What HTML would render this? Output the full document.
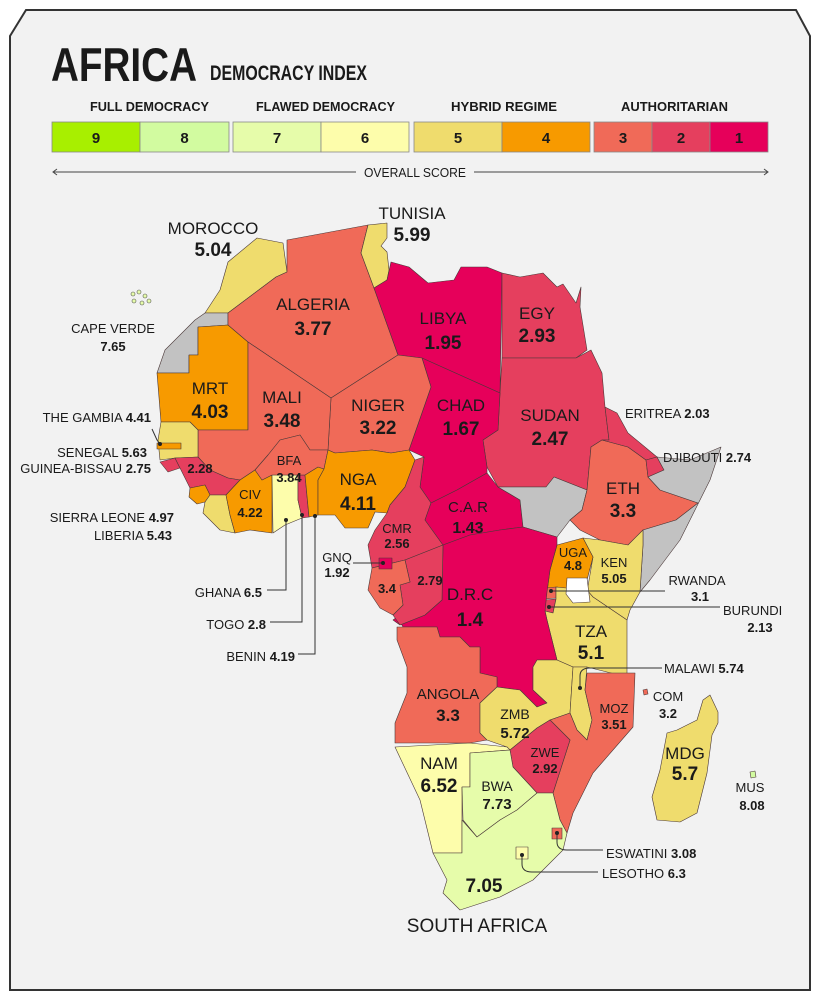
<!DOCTYPE html>
<html><head><meta charset="utf-8">
<style>
body{margin:0;background:#fff;width:820px;height:1000px;overflow:hidden;font-family:"Liberation Sans",sans-serif}
svg{display:block}
.n{font-family:"Liberation Sans Narrow","Liberation Sans",sans-serif;fill:#1a1a1a}
.lab{font-size:17px;text-anchor:middle}
.num{font-size:19px;font-weight:bold;text-anchor:middle}
.sm{font-size:13px;font-weight:bold}
.smc{font-size:13px;font-weight:bold;text-anchor:middle}
.call{fill:none;stroke:#333;stroke-width:1}
</style></head>
<body>
<svg id="map" width="820" height="1000" viewBox="0 0 820 1000">
<path d="M26,10 L796,10 L810,36 L810,990 L10,990 L10,36 Z" fill="#f2f2f2" stroke="#333" stroke-width="2"/>
<text x="51" y="81" class="n" style="font-size:47px;font-weight:bold" textLength="146" lengthAdjust="spacingAndGlyphs">AFRICA</text>
<text x="210" y="80" class="n" style="font-size:21px;font-weight:bold" textLength="157" lengthAdjust="spacingAndGlyphs">DEMOCRACY INDEX</text>
<g class="n" style="font-size:13px;font-weight:bold">
<text x="90" y="111" textLength="119" lengthAdjust="spacingAndGlyphs">FULL DEMOCRACY</text>
<text x="256" y="111" textLength="139" lengthAdjust="spacingAndGlyphs">FLAWED DEMOCRACY</text>
<text x="451" y="111" textLength="106" lengthAdjust="spacingAndGlyphs">HYBRID REGIME</text>
<text x="621" y="111" textLength="107" lengthAdjust="spacingAndGlyphs">AUTHORITARIAN</text>
</g>
<g id="legend"></g>
<line x1="54" y1="172" x2="356" y2="172" stroke="#444" stroke-width="1"/>
<line x1="474" y1="172" x2="767" y2="172" stroke="#444" stroke-width="1"/>
<path d="M57,169 L53,172 L57,175 M764,169 L768,172 L764,175" fill="none" stroke="#444"/>
<text x="364" y="177" class="n" style="font-size:13px" textLength="102" lengthAdjust="spacingAndGlyphs">OVERALL SCORE</text>
<g id="countries"></g>
<path d="M567,578 L587,578 L590,602 L573,603 L566,594 Z" fill="#fff" stroke="#4a3838" stroke-width="0.6"/>
<g fill="#e6fcaa" stroke="#555" stroke-width="0.6">
<circle cx="133" cy="294" r="2"/><circle cx="139" cy="292" r="2"/><circle cx="145" cy="296" r="2"/><circle cx="134" cy="301" r="2"/><circle cx="142" cy="303" r="2"/><circle cx="149" cy="301" r="2"/>
</g>
<g>
<path class="call" d="M152,429 L157,440 L160,444"/>
<path class="call" d="M286,520 L286,590 L267,590"/>
<path class="call" d="M302,515 L302,622 L270,622"/>
<path class="call" d="M315,516 L315,654 L298,654"/>
<path class="call" d="M353,563 L383,563"/>
<path class="call" d="M551,591 L665,591"/>
<path class="call" d="M549,607 L720,607"/>
<path class="call" d="M580,688 L580,676 Q580,668 590,668 L662,668"/>
<path class="call" d="M557,833 L557,842 Q557,850 567,850 L603,850"/>
<path class="call" d="M522,855 L522,864 Q522,872 532,872 L598,872"/>
<g fill="#222"><circle cx="160" cy="444" r="2"/><circle cx="286" cy="520" r="2"/><circle cx="302" cy="515" r="2"/><circle cx="315" cy="516" r="2"/><circle cx="383" cy="563" r="2"/><circle cx="551" cy="591" r="2"/><circle cx="549" cy="607" r="2"/><circle cx="580" cy="688" r="2"/><circle cx="557" cy="833" r="2"/><circle cx="522" cy="855" r="2"/></g>
</g>
<g class="n">
<text x="213" y="234" class="lab">MOROCCO</text><text x="213" y="256" class="num">5.04</text>
<text x="412" y="219" class="lab">TUNISIA</text><text x="412" y="241" class="num">5.99</text>
<text x="313" y="310" class="lab">ALGERIA</text><text x="313" y="335" class="num">3.77</text>
<text x="443" y="324" class="lab">LIBYA</text><text x="443" y="349" class="num">1.95</text>
<text x="537" y="319" class="lab">EGY</text><text x="537" y="342" class="num">2.93</text>
<text x="210" y="394" class="lab">MRT</text><text x="210" y="418" class="num">4.03</text>
<text x="282" y="403" class="lab">MALI</text><text x="282" y="427" class="num">3.48</text>
<text x="378" y="411" class="lab">NIGER</text><text x="378" y="434" class="num">3.22</text>
<text x="461" y="411" class="lab">CHAD</text><text x="461" y="435" class="num">1.67</text>
<text x="550" y="421" class="lab">SUDAN</text><text x="550" y="445" class="num">2.47</text>
<text x="623" y="494" class="lab">ETH</text><text x="623" y="517" class="num">3.3</text>
<text x="358" y="485" class="lab">NGA</text><text x="358" y="510" class="num">4.11</text>
<text x="468" y="512" class="lab" style="font-size:15px">C.A.R</text><text x="468" y="533" class="num" style="font-size:16px">1.43</text>
<text x="470" y="600" class="lab">D.R.C</text><text x="470" y="626" class="num">1.4</text>
<text x="591" y="637" class="lab">TZA</text><text x="591" y="659" class="num">5.1</text>
<text x="448" y="699" class="lab" style="font-size:15px">ANGOLA</text><text x="448" y="721" class="num" style="font-size:17px">3.3</text>
<text x="439" y="769" class="lab">NAM</text><text x="439" y="792" class="num">6.52</text>
<text x="685" y="759" class="lab">MDG</text><text x="685" y="780" class="num">5.7</text>
<text x="484" y="892" class="num">7.05</text>
<text x="477" y="932" class="lab" style="font-size:19px">SOUTH AFRICA</text>
<text x="497" y="791" class="smc" style="font-size:14px;font-weight:normal">BWA</text><text x="497" y="809" class="smc" style="font-size:15px">7.73</text>
<text x="515" y="719" class="smc" style="font-size:14px;font-weight:normal">ZMB</text><text x="515" y="738" class="smc" style="font-size:15px">5.72</text>
<text x="545" y="757" class="smc" style="font-weight:normal">ZWE</text><text x="545" y="773" class="smc">2.92</text>
<text x="614" y="713" class="smc" style="font-weight:normal">MOZ</text><text x="614" y="729" class="smc">3.51</text>
<text x="614" y="567" class="smc" style="font-weight:normal">KEN</text><text x="614" y="583" class="smc">5.05</text>
<text x="573" y="557" class="smc" style="font-weight:normal">UGA</text><text x="573" y="570" class="smc">4.8</text>
<text x="397" y="533" class="smc" style="font-weight:normal">CMR</text><text x="397" y="548" class="smc">2.56</text>
<text x="387" y="593" class="smc">3.4</text><text x="430" y="585" class="smc">2.79</text>
<text x="250" y="499" class="smc" style="font-weight:normal">CIV</text><text x="250" y="517" class="smc">4.22</text>
<text x="289" y="465" class="smc" style="font-weight:normal">BFA</text><text x="289" y="482" class="smc">3.84</text>
<text x="200" y="473" class="smc">2.28</text>
<text x="337" y="562" class="smc" style="font-weight:normal">GNQ</text><text x="337" y="577" class="smc">1.92</text>
<text x="697" y="585" class="smc" style="font-weight:normal">RWANDA</text><text x="700" y="601" class="smc">3.1</text>
<text x="723" y="615" class="sm" style="font-weight:normal">BURUNDI</text><text x="760" y="632" class="smc">2.13</text>
<text x="668" y="701" class="smc" style="font-weight:normal">COM</text><text x="668" y="718" class="smc">3.2</text>
<text x="750" y="792" class="smc" style="font-weight:normal">MUS</text><text x="752" y="810" class="smc">8.08</text>
<text x="113" y="333" class="smc" style="font-weight:normal">CAPE VERDE</text><text x="113" y="351" class="smc">7.65</text>
<text x="625" y="418" class="sm"><tspan font-weight="normal">ERITREA </tspan>2.03</text>
<text x="663" y="462" class="sm"><tspan font-weight="normal">DJIBOUTI </tspan>2.74</text>
<text x="664" y="673" class="sm"><tspan font-weight="normal">MALAWI </tspan>5.74</text>
<text x="606" y="858" class="sm"><tspan font-weight="normal">ESWATINI </tspan>3.08</text>
<text x="602" y="878" class="sm"><tspan font-weight="normal">LESOTHO </tspan>6.3</text>
<text x="151" y="422" class="sm" text-anchor="end"><tspan font-weight="normal">THE GAMBIA </tspan>4.41</text>
<text x="147" y="457" class="sm" text-anchor="end"><tspan font-weight="normal">SENEGAL </tspan>5.63</text>
<text x="151" y="473" class="sm" text-anchor="end"><tspan font-weight="normal">GUINEA-BISSAU </tspan>2.75</text>
<text x="174" y="522" class="sm" text-anchor="end"><tspan font-weight="normal">SIERRA LEONE </tspan>4.97</text>
<text x="172" y="540" class="sm" text-anchor="end"><tspan font-weight="normal">LIBERIA </tspan>5.43</text>
<text x="262" y="597" class="sm" text-anchor="end"><tspan font-weight="normal">GHANA </tspan>6.5</text>
<text x="266" y="629" class="sm" text-anchor="end"><tspan font-weight="normal">TOGO </tspan>2.8</text>
<text x="295" y="661" class="sm" text-anchor="end"><tspan font-weight="normal">BENIN </tspan>4.19</text>
</g>
</svg>
<script>
const legendScores=[9,8,7,6,5,4,3,2,1];
const bucketColors=["#e6005a","#e53f5e","#f06a58","#f79a00","#efdc6d","#fdfdab","#e6fcaa","#d2fba0","#a8ef00"];
const countryNames=["morocco","western-sahara","mauritania","algeria","tunisia","libya","egypt","sudan","chad","niger","mali","senegal","gambia","guinea-bissau","guinea","sierra-leone","liberia","cote-divoire","ghana","togo","benin","burkina-faso","nigeria","cameroon","car","south-sudan","ethiopia","eritrea","djibouti","somalia","kenya","uganda","rwanda","burundi","tanzania","drc","congo","gabon","equatorial-guinea","angola","zambia","malawi","mozambique","zimbabwe","namibia","botswana","south-africa","eswatini","lesotho","madagascar","comoros","mauritius"];
const countryScores=[5.04,null,4.03,3.77,5.99,1.95,2.93,2.47,1.67,3.22,3.48,5.63,4.41,2.75,2.28,4.97,5.43,4.22,6.5,2.8,4.19,3.84,4.11,2.56,1.43,null,3.3,2.03,2.74,null,5.05,4.8,3.1,2.13,5.1,1.4,2.79,3.4,1.92,3.3,5.72,5.74,3.51,2.92,6.52,7.73,7.05,3.08,6.3,5.7,3.2,8.08];
const shapes=[
"228,262 257,238 283,243 287,272 276,277 228,313 205,313 220,290",
"205,313 228,313 228,325 198,327 198,355 189,355 189,373 157,373 165,350 180,335 195,320",
"157,373 189,373 189,355 198,355 198,327 228,325 248,342 248,430 198,430 190,422 161,422",
"287,240 368,225 361,253 374,288 398,355 331,398 248,342 228,325 228,313 276,277 287,272",
"368,225 387,223 387,238 381,246 387,252 389,270 387,280 374,288 361,253",
"374,288 387,280 391,262 409,267 428,283 454,280 461,267 487,267 502,273 500,393 422,358 398,355",
"502,273 520,277 543,273 557,287 563,284 576,303 581,287 580,307 587,350 576,358 502,358",
"502,358 576,358 591,350 602,373 605,407 609,440 602,440 591,447 587,490 554,477 546,487 498,487 487,467 483,440 498,430 500,393",
"422,358 500,393 498,430 483,440 487,467 487,473 457,490 431,503 420,487 424,457 409,450 431,387",
"331,398 398,355 422,358 431,387 409,450 391,453 372,450 335,453 328,450",
"248,342 331,398 328,450 310,450 300,435 280,440 268,455 255,470 240,480 228,478 210,470 198,457 198,430 248,430",
"161,422 190,422 198,430 198,457 175,458 160,460 158,440",
"157,443 181,443 181,449 157,449",
"160,462 175,458 180,468 168,472",
"175,458 198,457 210,470 228,478 240,480 226,495 210,495 205,485 190,488 180,468",
"190,488 205,485 210,495 205,502 197,504 189,497",
"205,502 210,495 226,495 230,515 235,533 220,530 203,513",
"240,480 255,470 262,480 272,475 272,533 250,530 235,533 230,515 226,495",
"272,475 298,475 298,500 302,518 285,525 273,533",
"298,475 305,475 309,517 302,518 298,500",
"305,475 318,467 324,469 318,480 318,515 309,517",
"268,455 280,440 300,435 310,450 328,450 324,469 318,467 305,475 272,475 262,480 255,470",
"328,450 335,453 372,450 391,453 409,450 415,460 405,487 390,505 387,513 375,512 368,528 345,528 335,515 318,515 318,480 324,469",
"405,487 415,460 424,457 420,487 431,503 425,520 443,545 405,560 372,568 368,545 375,530 387,513 390,505",
"431,503 457,490 487,473 498,487 520,500 523,527 500,530 470,535 443,545 425,520",
"498,487 546,487 554,477 587,490 582,510 570,520 557,537 523,527 520,500",
"587,490 591,447 602,440 628,447 646,460 648,477 660,490 698,503 676,520 643,530 628,545 600,540 580,530 570,520 582,510",
"605,407 617,413 628,433 657,457 646,460 628,447 602,440 609,440",
"646,460 657,457 664,470 648,477",
"657,457 664,470 648,477 660,490 698,503 676,520 643,530 643,545 640,592 650,580 680,540 710,480 721,447 690,460",
"583,538 600,540 628,545 643,530 643,545 640,592 630,610 627,620 593,597 587,592 593,557",
"557,545 583,538 593,557 587,580 587,592 557,587 547,592 550,570",
"545,588 556,587 556,598 545,599",
"545,600 556,599 553,613 545,611",
"556,587 587,590 593,597 627,620 627,677 587,667 573,667 557,660 547,620 545,611 553,613 556,599",
"443,545 470,535 500,530 523,527 557,537 557,545 550,570 547,592 545,611 547,620 557,660 537,660 533,667 533,690 547,703 537,707 520,690 497,687 497,677 480,673 480,647 470,647 460,637 440,637 437,627 403,627 397,617 393,620 400,625 425,615 442,600",
"405,560 443,545 442,600 425,615 400,625 393,615 403,605 400,585 410,582",
"372,568 405,560 410,582 400,585 403,605 393,615 380,608 368,590",
"379,558 392,558 392,569 379,569",
"397,627 437,627 440,637 460,637 470,647 480,647 480,673 497,677 497,687 480,703 480,733 487,740 470,743 395,743 395,723 407,693 407,667 397,640",
"537,660 557,660 573,667 570,713 550,720 537,728 510,750 507,747 487,740 480,733 480,703 497,687 520,690 537,707 547,703 533,690 533,667",
"573,667 587,667 585,690 592,720 587,740 577,730 570,713",
"587,673 635,673 633,727 593,773 573,813 567,833 560,820 553,793 570,740 550,720 570,713 577,730 587,740 592,720 585,690",
"510,750 537,728 550,720 570,740 553,793 537,793 513,767",
"395,747 470,743 507,747 510,750 470,753 470,787 462,787 462,853 433,853 420,800",
"470,753 510,750 513,767 537,793 517,810 500,820 477,837 463,820 462,787 470,787",
"462,820 477,837 500,820 517,810 537,793 553,793 560,820 567,833 563,850 533,880 500,897 460,910 443,893 447,880 433,853 462,853",
"552,828 562,828 562,839 552,839",
"516,847 528,847 528,859 516,859",
"703,700 710,695 718,712 718,723 712,735 707,773 697,813 680,822 657,820 652,797 660,770 667,733 677,730 697,720",
"643,690 647,689 648,694 644,695",
"750,772 755,771 756,777 751,778"
];
const NS="http://www.w3.org/2000/svg";
const legend=document.getElementById("legend");
const boxX=[52,140,233,321,414,502,594,652,710], boxW=[88,89,88,88,88,88,58,58,58];
legendScores.forEach((s,i)=>{
  const r=document.createElementNS(NS,"rect");
  r.setAttribute("x",boxX[i]);r.setAttribute("y",122);r.setAttribute("width",boxW[i]);r.setAttribute("height",30);
  r.setAttribute("fill",bucketColors[s-1]);r.setAttribute("stroke","#888");r.setAttribute("stroke-width","0.8");
  
  
  legend.appendChild(r);
  const t=document.createElementNS(NS,"text");
  t.setAttribute("x",boxX[i]+boxW[i]/2);t.setAttribute("y",143);t.setAttribute("text-anchor","middle");
  t.setAttribute("class","n");t.setAttribute("style","font-size:15px;font-weight:bold");
  t.textContent=s;
  
  
  legend.appendChild(t);
});
const g=document.getElementById("countries");
countryNames.forEach((nm,i)=>{
  const p=document.createElementNS(NS,"polygon");
  p.setAttribute("points",shapes[i]);
  const sc=countryScores[i];
  const b=sc==null?null:Math.min(9,Math.max(1,Math.floor(sc)));
  p.setAttribute("fill",b==null?"#c2c2c2":bucketColors[b-1]);
  p.setAttribute("stroke","#4a3838");p.setAttribute("stroke-width","0.6");p.setAttribute("stroke-linejoin","round");
  
  
  g.appendChild(p);
});
</script>
</body></html>
